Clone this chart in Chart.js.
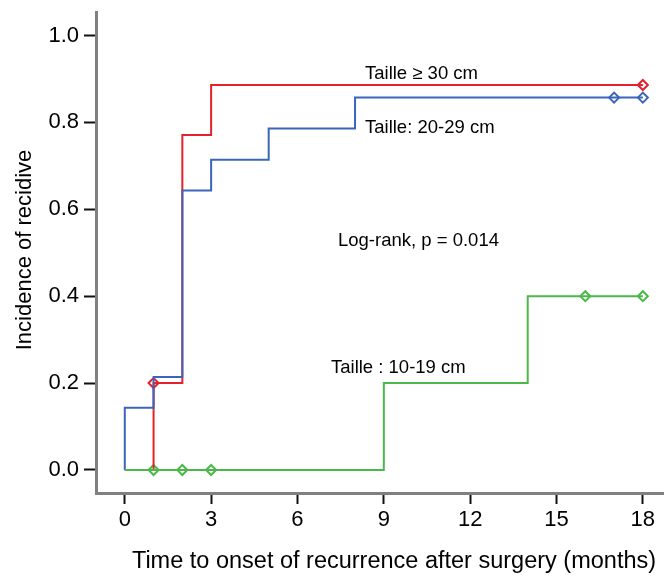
<!DOCTYPE html>
<html>
<head>
<meta charset="utf-8">
<script src="https://cdn.jsdelivr.net/npm/chart.js@4"></script>
<style>
  html, body { margin: 0; padding: 0; background: #fff; }
  #wrap { width: 670px; height: 577px; }
</style>
</head>
<body>
<div id="wrap"><canvas id="km" width="670" height="577"></canvas></div>
<script>
// cumulative incidence steps (time in months, value from that time on)
const redTimes = [0, 1, 2, 3, 18];
const redVals = [0, 0.2, 0.771, 0.886, 0.886];
const blueTimes = [0, 0, 1, 2, 3, 5, 8, 18];
const blueVals = [0, 0.143, 0.214, 0.643, 0.714, 0.786, 0.857, 0.857];
const greenTimes = [0, 9, 14, 18];
const greenVals = [0, 0.2, 0.4, 0.4];

// censored observations
const redCensorT = [1, 18];
const redCensorV = [0.2, 0.886];
const blueCensorT = [17, 18];
const blueCensorV = [0.857, 0.857];
const greenCensorT = [1, 2, 3, 16, 18];
const greenCensorV = [0, 0, 0, 0.4, 0.4];

const xTicks = [0, 3, 6, 9, 12, 15, 18];
const yTicks = [0, 0.2, 0.4, 0.6, 0.8, 1.0];

const RED = "#e3222b";
const BLUE = "#3b65bb";
const GREEN = "#4cb849";

const pts = (t, v) => t.map((x, i) => ({ x: x, y: v[i] }));

function stepSet(t, v, color) {
    return {
        data: pts(t, v),
        borderColor: color,
        backgroundColor: color,
        borderWidth: 2,
        stepped: "before", // horizontal first, then the jump
        pointRadius: 0,
        pointHoverRadius: 0,
        fill: false,
    };
}

function censorSet(t, v, color) {
    return {
        data: pts(t, v),
        showLine: false,
        pointStyle: "rectRot",
        pointRadius: 5,
        pointBorderWidth: 2,
        pointBorderColor: color,
        pointBackgroundColor: "rgba(255,255,255,0)",
        borderColor: color,
    };
}

// axis titles and curve labels
const labelsPlugin = {
    id: "kmLabels",
    afterDraw(chart) {
        const ctx = chart.ctx;
        ctx.save();
        ctx.fillStyle = "#000";
        ctx.textBaseline = "middle";

        ctx.font = "18.5px 'Liberation Sans', Arial, sans-serif";
        ctx.textAlign = "left";
        ctx.fillText("Taille \u2265 30 cm", 365, 74);
        ctx.fillText("Taille: 20-29 cm", 365, 128);
        ctx.fillText("Log-rank, p = 0.014", 338, 241);
        ctx.fillText("Taille : 10-19 cm", 331, 368);

        ctx.textAlign = "center";
        ctx.font = "23.5px 'Liberation Sans', Arial, sans-serif";
        ctx.fillText("Time to onset of recurrence after surgery (months)", 394, 562);

        ctx.translate(25, 250);
        ctx.rotate(-Math.PI / 2);
        ctx.font = "22px 'Liberation Sans', Arial, sans-serif";
        ctx.fillText("Incidence of recidive", 0, 0);
        ctx.restore();
    }
};

new Chart(document.getElementById("km"), {
    type: "line",
    data: {
        datasets: [
            stepSet(greenTimes, greenVals, GREEN),
            stepSet(blueTimes, blueVals, BLUE),
            stepSet(redTimes, redVals, RED),
            censorSet(greenCensorT, greenCensorV, GREEN),
            censorSet(blueCensorT, blueCensorV, BLUE),
            censorSet(redCensorT, redCensorV, RED),
        ],
    },
    options: {
        responsive: false,
        animation: false,
        layout: { padding: { top: 12, right: 0, left: 0, bottom: 0 } },
        plugins: {
            legend: { display: false },
            tooltip: { enabled: false },
        },
        scales: {
            x: {
                type: "linear",
                min: -1,
                max: 18.7,
                afterBuildTicks: s => { s.ticks = xTicks.map(v => ({ value: v })); },
                afterFit: s => { s.height = 84; s.paddingLeft = 0; s.paddingRight = 0; },
                border: { display: true, color: "#808080", width: 3 },
                grid: {
                    drawOnChartArea: false,
                    drawTicks: true,
                    tickLength: 11,
                    tickColor: "#111",
                    tickWidth: 2,
                },
                ticks: {
                    color: "#000",
                    padding: 3,
                    maxRotation: 0,
                    font: { family: "'Liberation Sans', Arial, sans-serif", size: 22 },
                },
            },
            y: {
                type: "linear",
                min: -0.053,
                max: 1.054,
                afterBuildTicks: s => { s.ticks = yTicks.map(v => ({ value: v })); },
                afterFit: s => { s.width = 96; s.paddingTop = 0; s.paddingBottom = 0; },
                border: { display: true, color: "#808080", width: 3 },
                grid: {
                    drawOnChartArea: false,
                    drawTicks: true,
                    tickLength: 12,
                    tickColor: "#111",
                    tickWidth: 2,
                },
                ticks: {
                    color: "#000",
                    padding: 5,
                    callback: v => v.toFixed(1),
                    font: { family: "'Liberation Sans', Arial, sans-serif", size: 22 },
                },
            },
        },
    },
    plugins: [labelsPlugin],
});
</script>
</body>
</html>
